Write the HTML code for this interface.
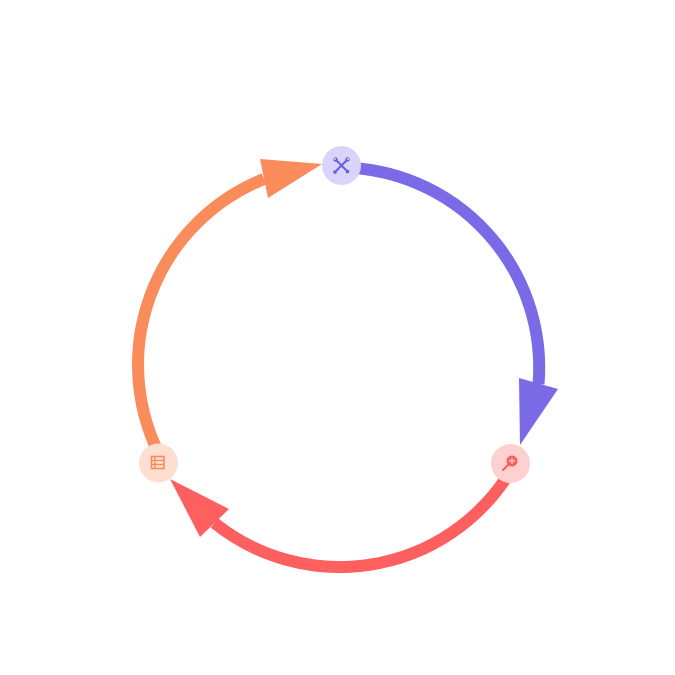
<!DOCTYPE html>
<html>
<head>
<meta charset="utf-8">
<style>
  html, body { margin: 0; padding: 0; background: #ffffff; }
  body { width: 675px; height: 675px; overflow: hidden; }
  svg { display: block; }
</style>
</head>
<body>
<svg width="675" height="675" viewBox="0 0 675 675" xmlns="http://www.w3.org/2000/svg">
  <rect width="675" height="675" fill="#ffffff"/>

  <!-- Orange arc: left node -> top node -->
  <path d="M 162.6 460.8 A 200 200 0 0 1 264 179" fill="none" stroke="#FA8B5B" stroke-width="12"/>
  <polygon points="260,159 268,198 322,164" fill="#FA8B5B"/>

  <!-- Purple arc: top node -> right node -->
  <path d="M 341 167.5 A 200 200 0 0 1 538.5 384" fill="none" stroke="#7A6AE6" stroke-width="12"/>
  <polygon points="519,378 558,389 520,445" fill="#7A6AE6"/>

  <!-- Red arc: right node -> left node -->
  <path d="M 514 465 A 200 200 0 0 1 214.5 523" fill="none" stroke="#FF5F5F" stroke-width="12"/>
  <polygon points="229,509 200,537 170,479" fill="#FF5F5F"/>

  <!-- Top node (tools) -->
  <circle cx="341.5" cy="165.5" r="19.5" fill="#D9D4F9"/>
  <g stroke="#6C5CE0" stroke-width="2" stroke-linecap="round" fill="none">
    <line x1="335.5" y1="171.5" x2="347" y2="160"/>
    <line x1="336" y1="160" x2="347" y2="171"/>
  </g>
  <g fill="#6C5CE0">
    <circle cx="347.5" cy="159.5" r="2.2"/>
    <circle cx="335.5" cy="159.5" r="2.2"/>
    <circle cx="347.5" cy="171.5" r="1.8"/>
    <circle cx="335" cy="172" r="1.8"/>
  </g>
  <circle cx="348" cy="159" r="1" fill="#D9D4F9"/>
  <circle cx="335" cy="159" r="1" fill="#D9D4F9"/>

  <!-- Right node (zoom) -->
  <circle cx="510.5" cy="463.5" r="19.5" fill="#FFD0D0"/>
  <line x1="508" y1="465" x2="503" y2="470" stroke="#FF5F5F" stroke-width="2" stroke-linecap="round"/>
  <circle cx="512" cy="461" r="5.5" fill="#FF5F5F"/>
  <line x1="509" y1="461" x2="515" y2="461" stroke="#FFD0D0" stroke-width="1.4"/>
  <line x1="512" y1="458" x2="512" y2="464" stroke="#FFD0D0" stroke-width="1.4"/>

  <!-- Left node (list) -->
  <circle cx="158.5" cy="463" r="19.5" fill="#FDDFD1"/>
  <rect x="151.5" y="456.5" width="12.5" height="12" fill="none" stroke="#FA8B5B" stroke-width="1.6"/>
  <g stroke="#FA8B5B" stroke-width="1.4">
    <line x1="155" y1="456.5" x2="155" y2="468.5"/>
    <line x1="151.5" y1="460.5" x2="164" y2="460.5"/>
    <line x1="151.5" y1="464.5" x2="164" y2="464.5"/>
  </g>
</svg>
</body>
</html>
